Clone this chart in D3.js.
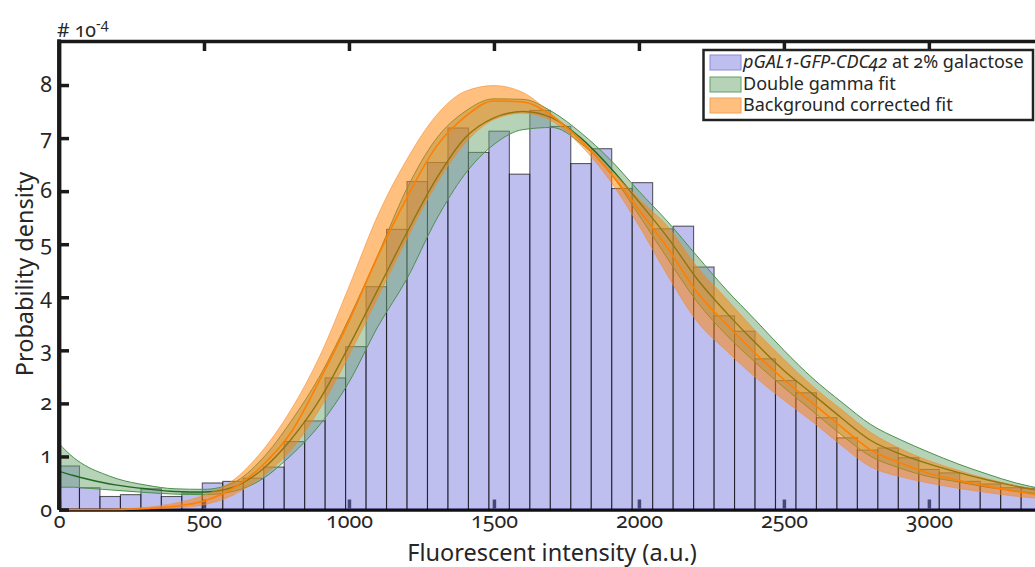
<!DOCTYPE html>
<html><head><meta charset="utf-8">
<script src="https://cdn.jsdelivr.net/npm/d3@7"></script>
<style>
body{margin:0;background:#fff}
svg{display:block}
text{font-family:"Noto Sans",sans-serif;fill:#262626;font-variant-numeric:oldstyle-nums;font-feature-settings:"onum" 1}
</style>
</head><body>
<svg id="chart" width="1035" height="567"></svg>
<script>
// ---------- data ----------
const binWidth = 70.6;
const density = [0.82,0.41,0.245,0.28,0.39,0.245,0.31,0.50,0.53,0.59,0.80,1.28,1.67,2.48,3.07,4.20,
  5.28,6.18,6.54,7.19,6.73,7.13,6.32,7.52,7.22,6.52,6.80,6.05,6.16,5.29,5.34,4.57,3.65,3.36,2.84,2.43,
  2.20,1.73,1.35,1.12,1.16,0.975,0.755,0.69,0.53,0.48,0.41,0.40];
const fitX = [0,50,100,150,200,300,400,500,600,700,800,900,1000,1100,1200,1300,1400,1500,1600,1700,1800,
  1900,2000,2100,2200,2300,2400,2500,2600,2700,2800,2900,3000,3100,3200,3300,3400];
const gammaUpper = [1.24,0.98,0.80,0.68,0.58,0.46,0.39,0.38,0.50,0.95,1.66,2.52,3.60,4.80,6.05,6.98,7.50,7.74,7.73,7.50,7.10,
  6.60,6.00,5.42,4.78,4.15,3.58,3.00,2.47,2.02,1.60,1.32,1.08,0.86,0.67,0.50,0.38];
const gammaMid = [0.72,0.64,0.57,0.51,0.46,0.39,0.34,0.33,0.42,0.75,1.32,2.08,3.08,4.15,5.22,6.22,7.00,7.38,7.50,7.38,7.00,
  6.45,5.80,5.12,4.35,3.72,3.15,2.62,2.17,1.72,1.30,1.05,0.86,0.70,0.56,0.44,0.34];
const gammaLower = [0.42,0.42,0.40,0.38,0.36,0.32,0.29,0.28,0.34,0.57,1.02,1.60,2.40,3.45,4.35,5.45,6.32,6.88,7.16,7.20,6.90,
  6.35,5.55,4.72,3.92,3.30,2.78,2.30,1.85,1.40,1.00,0.78,0.62,0.52,0.42,0.35,0.28];
const corrUpper = [0,0,0,0,0.01,0.04,0.12,0.27,0.55,1.10,1.88,2.90,4.20,5.55,6.60,7.42,7.88,7.99,7.86,7.45,6.98,
  6.42,5.85,5.33,4.58,3.98,3.38,2.83,2.32,1.88,1.45,1.15,0.92,0.74,0.58,0.45,0.35];
const corrMid = [0,0,0,0,0,0.02,0.06,0.16,0.40,0.82,1.45,2.45,3.55,4.78,5.88,6.83,7.40,7.70,7.68,7.42,6.95,
  6.35,5.65,4.92,4.10,3.50,2.95,2.45,2.00,1.55,1.12,0.88,0.68,0.55,0.44,0.34,0.26];
const corrLower = [0,0,0,0,0,0.01,0.03,0.09,0.27,0.62,1.12,1.90,2.90,4.00,5.10,6.12,6.90,7.35,7.47,7.32,6.86,
  6.20,5.35,4.40,3.55,3.00,2.50,2.06,1.65,1.20,0.80,0.62,0.50,0.40,0.32,0.25,0.20];
const xTickValues = [0,500,1000,1500,2000,2500,3000];
const yTickValues = [0,1,2,3,4,5,6,7,8];
const xTitle = "Fluorescent intensity (a.u.)";
const yTitle = "Probability density";
const legendLabels = ["pGAL1-GFP-CDC42", "Double gamma fit", "Background corrected fit"];

// ---------- layout ----------
const svg = d3.select("#chart");
const L = 59, R = 1035, T = 41, B = 509.5;
const x = d3.scaleLinear().domain([0, 3366]).range([L, R]);
const y = d3.scaleLinear().domain([0, 8.83]).range([B, T]);
const fmt = d3.format("d");

svg.append("defs").append("clipPath").attr("id","clip")
  .append("rect").attr("x",L).attr("y",T-2).attr("width",R-L).attr("height",B-T+4);

// bottom axis (under translucent bars)
const xAxisB = svg.append("g").attr("transform",`translate(0,${B})`)
  .call(d3.axisBottom(x).tickValues(xTickValues).tickFormat(fmt).tickSizeInner(-10).tickSizeOuter(0).tickPadding(0));
xAxisB.select(".domain").attr("stroke","#111").attr("stroke-width",3.5);
xAxisB.selectAll(".tick line").attr("stroke","#111").attr("stroke-width",3.5);
xAxisB.selectAll(".tick text").attr("y",18).attr("dy",0).style("font-size","21.5px").style("font-family","'Noto Sans',sans-serif").attr("fill","#262626");

const plot = svg.append("g").attr("clip-path","url(#clip)");

// histogram bars
plot.append("g").selectAll("rect").data(density).join("rect")
  .attr("x",(d,i)=>x(i*binWidth))
  .attr("width",(d,i)=>x((i+1)*binWidth)-x(i*binWidth))
  .attr("y",d=>y(d))
  .attr("height",d=>y(0)-y(d))
  .attr("fill","#7f7fdf").attr("fill-opacity",0.5)
  .attr("stroke","#000").attr("stroke-opacity",0.62).attr("stroke-width",1.1);

const pts = (arr)=>fitX.map((v,i)=>[v,arr[i]]);
const line = d3.line().x(d=>x(d[0])).y(d=>y(d[1])).curve(d3.curveMonotoneX);
const area = d3.area().x((d,i)=>x(fitX[i])).curve(d3.curveMonotoneX);

// green band
plot.append("path").datum(fitX)
  .attr("d", area.y0((d,i)=>y(gammaLower[i])).y1((d,i)=>y(gammaUpper[i])))
  .attr("fill","#6fa86f").attr("fill-opacity",0.5);
[gammaUpper, gammaLower].forEach(a=>plot.append("path").attr("d",line(pts(a)))
  .attr("fill","none").attr("stroke","#4d8f4d").attr("stroke-width",1));
plot.append("path").attr("d",line(pts(gammaMid))).attr("fill","none").attr("stroke","#1f6a1f").attr("stroke-width",1.4);

// orange band
plot.append("path").datum(fitX)
  .attr("d", area.y0((d,i)=>y(corrLower[i])).y1((d,i)=>y(corrUpper[i])))
  .attr("fill","#ff8000").attr("fill-opacity",0.5);
[corrUpper, corrLower].forEach(a=>plot.append("path").attr("d",line(pts(a)))
  .attr("fill","none").attr("stroke","#f08a2a").attr("stroke-opacity",0.7).attr("stroke-width",0.8));
plot.append("path").attr("d",line(pts(corrMid))).attr("fill","none").attr("stroke","#ff7f00").attr("stroke-width",1.6);

// top axis
const xAxisT = svg.append("g").attr("transform",`translate(0,${T})`)
  .call(d3.axisTop(x).tickValues(xTickValues.filter(v=>v>0)).tickSizeInner(-10).tickSizeOuter(0).tickFormat(""));
xAxisT.select(".domain").attr("stroke","#1a1a1a").attr("stroke-width",3.5);
xAxisT.selectAll(".tick line").attr("stroke","#1a1a1a").attr("stroke-width",3.5);

// left axis
const yAxis = svg.append("g").attr("transform",`translate(${L},0)`)
  .call(d3.axisLeft(y).tickValues(yTickValues).tickFormat(fmt).tickSizeInner(-10).tickSizeOuter(0).tickPadding(0));
yAxis.select(".domain").attr("stroke","#1a1a1a").attr("stroke-width",3.8);
yAxis.selectAll(".tick line").attr("stroke","#1a1a1a").attr("stroke-width",3.5);
yAxis.selectAll(".tick text").attr("x",-7).attr("dy",0).attr("y",6.5).style("font-size","21.5px").style("font-family","'Noto Sans',sans-serif").attr("fill","#262626");
svg.append("line").attr("x1",L).attr("x2",L).attr("y1",T-1.75).attr("y2",B).attr("stroke","#1a1a1a").attr("stroke-width",3.8);

// exponent label
const ex = svg.append("text").attr("x",57).attr("y",37).style("font-size","19.5px");
ex.append("tspan").text("# 10");
ex.append("tspan").attr("dy",-8).style("font-size","14.5px").text("-4");

// axis titles
svg.append("text").attr("x",552).attr("y",561).attr("text-anchor","middle").style("font-size","23.5px").text(xTitle);
svg.append("text").attr("transform","translate(33,274) rotate(-90)").attr("text-anchor","middle").style("font-size","23.5px").text(yTitle);

// legend
const lg = svg.append("g");
lg.append("rect").attr("x",703.5).attr("y",50).attr("width",329.5).attr("height",70)
  .attr("fill","#fff").attr("stroke","#222").attr("stroke-width",2.5);
const swatches = [
  {fill:"#bfbfef", stroke:"#8c8cd8"},
  {fill:"#b7d3b7", stroke:"#62a062"},
  {fill:"#ffbf7f", stroke:"#f2a25a"}
];
const rowY = [55, 77, 98];
swatches.forEach((s,i)=>{
  lg.append("rect").attr("x",710).attr("y",rowY[i]).attr("width",31).attr("height",15)
    .attr("fill",s.fill).attr("stroke",s.stroke).attr("stroke-width",1);
});
const fs = "18px";
const t0 = lg.append("text").attr("x",743).attr("y",68).style("font-size",fs);
t0.append("tspan").style("font-style","italic").text(legendLabels[0]);
t0.append("tspan").text(" at 2% galactose");
lg.append("text").attr("x",743).attr("y",89.5).style("font-size",fs).text(legendLabels[1]);
lg.append("text").attr("x",743).attr("y",111).style("font-size",fs).text(legendLabels[2]);
</script>
</body></html>
